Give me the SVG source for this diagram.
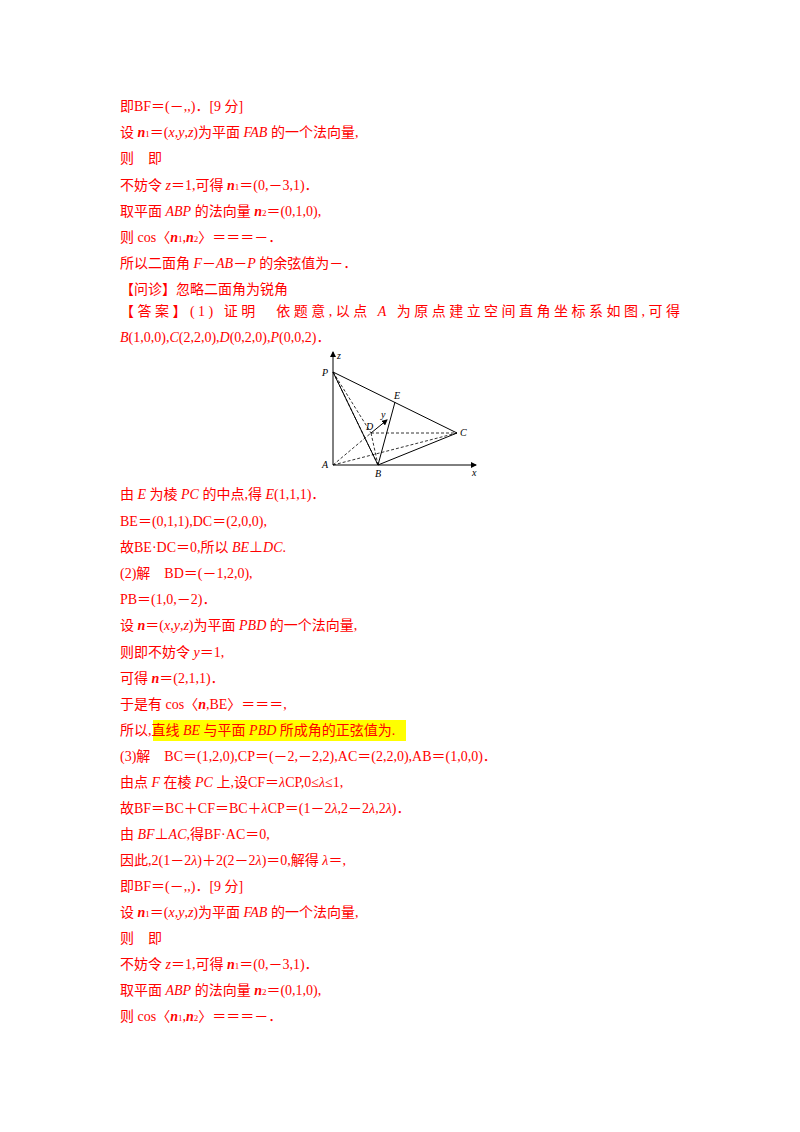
<svg xmlns="http://www.w3.org/2000/svg" width="800" height="1132" viewBox="0 0 800 1132">
<style>
text{font-family:"Liberation Serif","Noto Sans CJK SC",serif;font-size:14px;fill:#f00}
.i{font-style:italic}.b{font-weight:bold;font-style:italic}
.f{font-size:10px;fill:#000;font-style:italic}
.s{stroke:#000;stroke-width:1;fill:none}.d{stroke:#000;stroke-width:0.8;stroke-dasharray:3,2;fill:none}
</style>
<rect width="800" height="1132" fill="#fff"/>
<g id="text-top">
<text x="120" y="111">即BF＝(－,,)．[9 分]</text>
<text x="120" y="137">设 <tspan class="b">n</tspan><tspan font-size="9">1</tspan>＝(<tspan class="i">x</tspan>,<tspan class="i">y</tspan>,<tspan class="i">z</tspan>)为平面 <tspan class="i">FAB</tspan> 的一个法向量,</text>
<text x="120" y="163">则　即</text>
<text x="120" y="190">不妨令 <tspan class="i">z</tspan>＝1,可得 <tspan class="b">n</tspan><tspan font-size="9">1</tspan>＝(0,－3,1)．</text>
<text x="120" y="216">取平面 <tspan class="i">ABP</tspan> 的法向量 <tspan class="b">n</tspan><tspan font-size="9">2</tspan>＝(0,1,0),</text>
<text x="120" y="242">则 cos〈<tspan class="b">n</tspan><tspan font-size="9">1</tspan>,<tspan class="b">n</tspan><tspan font-size="9">2</tspan>〉＝＝＝－．</text>
<text x="120" y="268">所以二面角 <tspan class="i">F</tspan>－<tspan class="i">AB</tspan>－<tspan class="i">P</tspan> 的余弦值为－．</text>
<text x="120" y="294">【问诊】忽略二面角为锐角</text>
<text x="120" y="316" textLength="560" lengthAdjust="spacing">【答案】(1) 证明　依题意,以点 <tspan class="i">A</tspan> 为原点建立空间直角坐标系如图,可得</text>
<text x="120" y="342"><tspan class="i">B</tspan>(1,0,0),<tspan class="i">C</tspan>(2,2,0),<tspan class="i">D</tspan>(0,2,0),<tspan class="i">P</tspan>(0,0,2)．</text>
</g>
<g id="figure">
<defs><marker id="ar" markerWidth="6" markerHeight="6" refX="5" refY="3" orient="auto"><path d="M0,0L6,3L0,6z" fill="#000"/></marker></defs>
<line class="s" x1="333" y1="465" x2="333" y2="352" marker-end="url(#ar)"/>
<line class="s" x1="333" y1="465" x2="476" y2="465" marker-end="url(#ar)"/>
<line class="s" x1="333" y1="372" x2="378" y2="465"/>
<line class="s" x1="333" y1="372" x2="457" y2="433"/>
<line class="s" x1="395" y1="402" x2="378" y2="465"/>
<line class="s" x1="378" y1="465" x2="457" y2="433"/>
<line class="d" x1="333" y1="372" x2="371" y2="433"/>
<line class="d" x1="333" y1="372" x2="378" y2="465"/>
<line class="d" x1="371" y1="433" x2="457" y2="433"/>
<line class="d" x1="333" y1="465" x2="371" y2="433"/>
<line class="d" x1="333" y1="465" x2="457" y2="433"/>
<line class="d" x1="371" y1="433" x2="378" y2="465"/>
<line class="s" x1="371" y1="433" x2="387" y2="420" stroke-width="0.7" marker-end="url(#ar)"/>
<text class="f" x="337" y="359">z</text>
<text class="f" x="322" y="376">P</text>
<text class="f" x="394" y="399">E</text>
<text class="f" x="366" y="430">D</text>
<text class="f" x="381" y="418" font-size="8">y</text>
<text class="f" x="460" y="436">C</text>
<text class="f" x="322" y="468">A</text>
<text class="f" x="375" y="477">B</text>
<text class="f" x="472" y="476">x</text>
</g>
<g id="text-bottom">
<rect x="153" y="720" width="253" height="21" fill="#ffff00"/>
<text x="120" y="499">由 <tspan class="i">E</tspan> 为棱 <tspan class="i">PC</tspan> 的中点,得 <tspan class="i">E</tspan>(1,1,1)．</text>
<text x="120" y="526">BE＝(0,1,1),DC＝(2,0,0),</text>
<text x="120" y="552">故BE·DC＝0,所以 <tspan class="i">BE</tspan>⊥<tspan class="i">DC</tspan>.</text>
<text x="120" y="578">(2)解　BD＝(－1,2,0),</text>
<text x="120" y="604">PB＝(1,0,－2)．</text>
<text x="120" y="630">设 <tspan class="b">n</tspan>＝(<tspan class="i">x</tspan>,<tspan class="i">y</tspan>,<tspan class="i">z</tspan>)为平面 <tspan class="i">PBD</tspan> 的一个法向量,</text>
<text x="120" y="657">则即不妨令 <tspan class="i">y</tspan>＝1,</text>
<text x="120" y="683">可得 <tspan class="b">n</tspan>＝(2,1,1)．</text>
<text x="120" y="709">于是有 cos〈<tspan class="b">n</tspan>,BE〉＝＝＝,</text>
<text x="120" y="735">所以,直线 <tspan class="i">BE</tspan> 与平面 <tspan class="i">PBD</tspan> 所成角的正弦值为.</text>
<text x="120" y="761">(3)解　BC＝(1,2,0),CP＝(－2,－2,2),AC＝(2,2,0),AB＝(1,0,0)．</text>
<text x="120" y="787">由点 <tspan class="i">F</tspan> 在棱 <tspan class="i">PC</tspan> 上,设CF＝<tspan class="i">λ</tspan>CP,0≤<tspan class="i">λ</tspan>≤1,</text>
<text x="120" y="813">故BF＝BC＋CF＝BC＋<tspan class="i">λ</tspan>CP＝(1－2<tspan class="i">λ</tspan>,2－2<tspan class="i">λ</tspan>,2<tspan class="i">λ</tspan>)．</text>
<text x="120" y="839">由 <tspan class="i">BF</tspan>⊥<tspan class="i">AC</tspan>,得BF·AC＝0,</text>
<text x="120" y="865">因此,2(1－2<tspan class="i">λ</tspan>)＋2(2－2<tspan class="i">λ</tspan>)＝0,解得 <tspan class="i">λ</tspan>＝,</text>
<text x="120" y="891">即BF＝(－,,)．[9 分]</text>
<text x="120" y="917">设 <tspan class="b">n</tspan><tspan font-size="9">1</tspan>＝(<tspan class="i">x</tspan>,<tspan class="i">y</tspan>,<tspan class="i">z</tspan>)为平面 <tspan class="i">FAB</tspan> 的一个法向量,</text>
<text x="120" y="943">则　即</text>
<text x="120" y="969">不妨令 <tspan class="i">z</tspan>＝1,可得 <tspan class="b">n</tspan><tspan font-size="9">1</tspan>＝(0,－3,1)．</text>
<text x="120" y="995">取平面 <tspan class="i">ABP</tspan> 的法向量 <tspan class="b">n</tspan><tspan font-size="9">2</tspan>＝(0,1,0),</text>
<text x="120" y="1021">则 cos〈<tspan class="b">n</tspan><tspan font-size="9">1</tspan>,<tspan class="b">n</tspan><tspan font-size="9">2</tspan>〉＝＝＝－．</text>
</g>
</svg>
